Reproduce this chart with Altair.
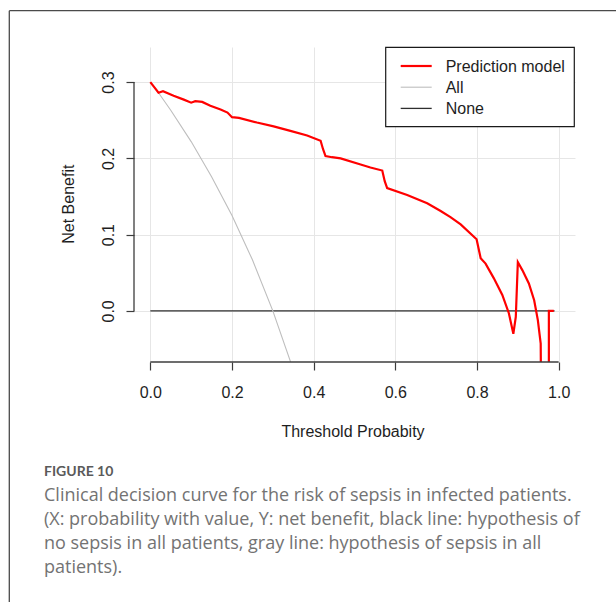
import altair as alt
import pandas as pd

# Decision curve: net benefit of the model across threshold probabilities
thr_model = [0.000, 0.010, 0.020, 0.031, 0.057, 0.082, 0.100, 0.110, 0.127, 0.147,
             0.172, 0.189, 0.200, 0.217, 0.261, 0.302, 0.343, 0.384, 0.417, 0.423,
             0.429, 0.445, 0.466, 0.515, 0.539, 0.568, 0.574, 0.580, 0.629, 0.678,
             0.711, 0.735, 0.760, 0.799, 0.809, 0.821, 0.841, 0.862, 0.878, 0.889,
             0.895, 0.900, 0.911, 0.927, 0.940, 0.949, 0.956, 0.962, 0.976, 0.976,
             0.988]
nb_model = [0.300, 0.293, 0.286, 0.288, 0.282, 0.277, 0.273, 0.275, 0.274, 0.269,
            0.264, 0.260, 0.254, 0.253, 0.247, 0.242, 0.236, 0.230, 0.223, 0.212,
            0.203, 0.2015, 0.200, 0.192, 0.188, 0.184, 0.170, 0.161, 0.152, 0.141,
            0.131, 0.123, 0.1135, 0.094, 0.069, 0.062, 0.043, 0.021, -0.003, -0.030,
            -0.008, 0.064, 0.0535, 0.036, 0.014, -0.012, -0.043, -0.500, -0.500, 0.000,
            0.000]

# Treat-all strategy
thr_all = [0.00, 0.02, 0.05, 0.10, 0.15, 0.20, 0.25, 0.30, 0.35]
nb_all = [0.300, 0.286, 0.263, 0.222, 0.176, 0.125, 0.067, 0.000, -0.077]

# Treat-none strategy
thr_none = [0.0, 0.99]
nb_none = [0.0, 0.0]

series_names = ["Prediction model", "All", "None"]
series_colors = ["#ff0000", "#bebebe", "#2e2e2e"]
series_widths = [2.2, 1.1, 1.3]

x_ticks = [0.0, 0.2, 0.4, 0.6, 0.8, 1.0]
y_ticks = [0.0, 0.1, 0.2, 0.3]

caption_head = "FIGURE 10"
caption_lines = [
    "Clinical decision curve for the risk of sepsis in infected patients.",
    "(X: probability with value, Y: net benefit, black line: hypothesis of",
    "no sepsis in all patients, gray line: hypothesis of sepsis in all",
    "patients).",
]

W, H = 441, 315
PAD_L, PAD_T = 134, 47
FONT = "Liberation Sans"
INK = "#1e1e1e"
AXIS_INK = "#3c3c3c"

x_scale = alt.Scale(domain=[-0.04, 1.04], nice=False, zero=False)
y_scale = alt.Scale(domain=[-0.067, 0.346], nice=False, zero=False)

x_axis = alt.Axis(
    values=x_ticks, format=".1f", grid=True, gridColor="#e6e6e6", gridWidth=1,
    domain=False, ticks=True, tickSize=8, tickColor=AXIS_INK, tickWidth=1.2,
    labelFont=FONT, labelFontSize=16, labelColor=INK, labelPadding=27,
    labelBaseline="alphabetic", labelFlush=False, labelOverlap=False,
    title="Threshold Probabity", titleFont=FONT, titleFontSize=16,
    titleFontWeight="normal", titleColor=INK, titleX=218.5, titleY=74,
    titleAlign="center", titleBaseline="alphabetic",
)
y_axis = alt.Axis(
    values=y_ticks, format=".1f", grid=True, gridColor="#e6e6e6", gridWidth=1,
    domain=False, ticks=True, tickSize=8, tickColor=AXIS_INK, tickWidth=1.2,
    labelFont=FONT, labelFontSize=16, labelColor=INK, labelPadding=13,
    labelAngle=270, labelAlign="center", labelBaseline="alphabetic",
    labelFlush=False, labelOverlap=False,
    title="Net Benefit", titleFont=FONT, titleFontSize=16,
    titleFontWeight="normal", titleColor=INK, titleAngle=270,
    titleX=-60.7, titleY=156.7, titleAlign="center", titleBaseline="alphabetic",
)


def curve(xs, ys, color, width):
    df = pd.DataFrame({"threshold": xs, "net_benefit": ys, "step": range(len(xs))})
    return alt.Chart(df).mark_line(clip=True, color=color, strokeWidth=width).encode(
        x=alt.X("threshold:Q", scale=x_scale, axis=x_axis),
        y=alt.Y("net_benefit:Q", scale=y_scale, axis=y_axis),
        order="step:Q",
    )


one = pd.DataFrame({"k": [0]})

layers = [
    curve(thr_none, nb_none, series_colors[2], series_widths[2]),
    curve(thr_all, nb_all, series_colors[1], series_widths[1]),
    curve(thr_model, nb_model, series_colors[0], series_widths[0]),
]

# R-style axis lines spanning only the first to last tick
layers.append(
    alt.Chart(pd.DataFrame({"lo": [x_ticks[0]], "hi": [x_ticks[-1]]}))
    .mark_rule(color=AXIS_INK, strokeWidth=1.3)
    .encode(x=alt.X("lo:Q", scale=x_scale, axis=x_axis), x2="hi:Q", y=alt.value(H))
)
layers.append(
    alt.Chart(pd.DataFrame({"lo": [y_ticks[0]], "hi": [y_ticks[-1]]}))
    .mark_rule(color=AXIS_INK, strokeWidth=1.3)
    .encode(y=alt.Y("lo:Q", scale=y_scale, axis=y_axis), y2="hi:Q", x=alt.value(0))
)

# Legend box in the top-right corner of the plot region
LEG_L, LEG_R, LEG_T, LEG_B = 251.7, 440.3, 0.3, 79.7
layers.append(
    alt.Chart(one).mark_rect(fill="white", stroke="#1a1a1a", strokeWidth=1.2).encode(
        x=alt.value(LEG_L), x2=alt.value(LEG_R), y=alt.value(LEG_T), y2=alt.value(LEG_B)
    )
)
for i, (name, color, width) in enumerate(zip(series_names, series_colors, series_widths)):
    row_y = 19 + 21.2 * i
    layers.append(
        alt.Chart(one).mark_rule(color=color, strokeWidth=width).encode(
            x=alt.value(LEG_L + 15), x2=alt.value(LEG_L + 46), y=alt.value(row_y)
        )
    )
    layers.append(
        alt.Chart(one).mark_text(
            text=name, font=FONT, fontSize=16, color=INK, align="left", baseline="alphabetic"
        ).encode(x=alt.value(LEG_L + 60), y=alt.value(row_y + 6))
    )

# Figure frame (left and top edges)
FRAME = "#4a4a4a"
layers.append(
    alt.Chart(one).mark_rule(color=FRAME, strokeWidth=1.3).encode(
        x=alt.value(9.3 - PAD_L), y=alt.value(10.7 - PAD_T), y2=alt.value(602 - PAD_T + 5)
    )
)
layers.append(
    alt.Chart(one).mark_rule(color=FRAME, strokeWidth=1.3).encode(
        x=alt.value(9.3 - PAD_L), x2=alt.value(616 - PAD_L + 5), y=alt.value(10.7 - PAD_T)
    )
)

# Caption
CAP_X = 44 - PAD_L
layers.append(
    alt.Chart(one).mark_text(
        text=caption_head, font="Lato", fontSize=14, fontWeight="bold", color="#5a5a5a",
        align="left", baseline="alphabetic",
    ).encode(x=alt.value(CAP_X), y=alt.value(476 - PAD_T))
)
for i, line in enumerate(caption_lines):
    layers.append(
        alt.Chart(one).mark_text(
            text=line, font="Open Sans", fontSize=18, color="#737373",
            align="left", baseline="alphabetic",
        ).encode(x=alt.value(CAP_X), y=alt.value(500.5 + 24 * i - PAD_T))
    )

chart = alt.layer(*layers).properties(
    width=W,
    height=H,
    padding={"left": PAD_L, "top": PAD_T, "right": 616 - PAD_L - W, "bottom": 602 - PAD_T - H},
    autosize=alt.AutoSizeParams(type="none"),
    background="white",
).configure_view(stroke=None)

chart.save("out.html", embed_options={"renderer": "svg", "actions": False})
